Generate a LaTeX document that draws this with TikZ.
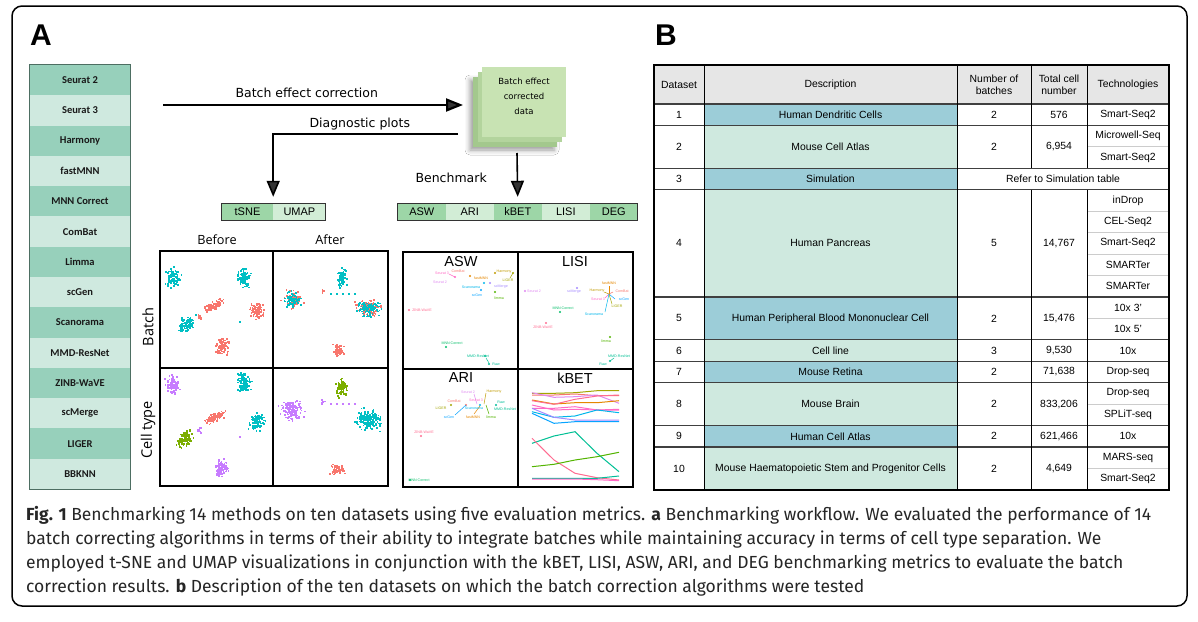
\documentclass[tikz,border=0pt]{standalone}
\usepackage{fontspec}
\setmainfont{Liberation Sans}
\newfontfamily\verdfont{DejaVu Sans}
\newfontfamily\capfont{Fira Sans}
\newfontfamily\plotfont{Open Sans}
\newfontfamily\listfont{Carlito}
\usetikzlibrary{arrows.meta,calc,positioning,shadows.blur}

\definecolor{methdark}{HTML}{97D0BB}
\definecolor{methlight}{HTML}{CFE9DF}
\definecolor{methline}{HTML}{4D6E62}
\definecolor{bardark}{HTML}{9DD6A7}
\definecolor{barlight}{HTML}{D2EDD6}
\definecolor{boxfront}{HTML}{C8E3B3}
\definecolor{boxmid}{HTML}{B3D49D}
\definecolor{boxback}{HTML}{A3C88D}
\definecolor{descblue}{HTML}{9CCDD8}
\definecolor{descmint}{HTML}{CFE9DF}
\definecolor{hdrgray}{HTML}{E6E6E6}
\definecolor{ggred}{HTML}{F8766D}
\definecolor{ggteal}{HTML}{00BFC4}
\definecolor{ggviolet}{HTML}{C77CFF}
\definecolor{ggolive}{HTML}{7CAE00}
% label colours of the metric plots
\definecolor{cSeuratII}{HTML}{E088F2}
\definecolor{cSeuratIII}{HTML}{FF6AC6}
\definecolor{cComBat}{HTML}{F8766D}
\definecolor{cfastMNN}{HTML}{E58700}
\definecolor{cHarmony}{HTML}{C09B00}
\definecolor{cLIGER}{HTML}{A3A500}
\definecolor{climma}{HTML}{53B400}
\definecolor{cMNN}{HTML}{00BE67}
\definecolor{cMMD}{HTML}{00C094}
\definecolor{cRaw}{HTML}{00BD9A}
\definecolor{cScanorama}{HTML}{00B6EB}
\definecolor{cscGen}{HTML}{06A4FF}
\definecolor{cscMerge}{HTML}{A58AFF}
\definecolor{cZINB}{HTML}{FF6C91}

\tikzset{
  method/.style={minimum width=100pt, minimum height=30.29pt, inner sep=0pt,
    font=\listfont\bfseries\fontsize{10.5}{12}\selectfont, text=black!90},
  barcell/.style={minimum height=16pt, inner sep=0pt, font=\fontsize{11}{12}\selectfont},
  flow/.style={line width=2.2pt, -{Triangle[length=17pt,width=13pt]}},
  thinflow/.style={line width=1.6pt, -{Triangle[length=16pt,width=13pt]}},
  flowlabel/.style={font=\verdfont\fontsize{12.5}{14}\selectfont, anchor=base west},
  plotlabel/.style={font=\plotfont\fontsize{12.7}{14}\selectfont},
  sidelabel/.style={font=\plotfont\fontsize{14.5}{16}\selectfont, rotate=90},
  metric/.style={font=\fontsize{14.5}{16}\selectfont},
  blabel/.style={font=\fontsize{3.6}{4}\selectfont, inner sep=0pt},
  kline/.style={line width=1pt},
  cell/.style={font=\fontsize{10.4}{12}\selectfont, align=center, inner sep=0pt},
  rowline/.style={line width=1.3pt, black!75},
  subline/.style={line width=0.8pt, black!20},
  colline/.style={line width=1pt, black},
  capline/.style={font=\capfont\fontsize{17.5}{20}\selectfont, anchor=base west, inner sep=0pt, text=black!85},
}

% one cloud of points: colour, centre x, centre y, spread x, spread y, shear, count
\newcommand{\cloud}[7]{%
  \foreach \k in {1,...,#7}{%
    \pgfmathsetmacro{\cu}{1.5*(rand+rand+rand)/3}%
    \pgfmathsetmacro{\cv}{1.5*(rand+rand+rand)/3}%
    \fill[#1] ({#2+#4*\cu-0.8},{#3+#5*\cv+#6*\cu-0.8}) rectangle ++(1.7,1.7);
  }}

\begin{document}
\begin{tikzpicture}[x=1pt, y=-1pt]
  \useasboundingbox (0,0) rectangle (1198,621);
  \fill[white] (0,0) rectangle (1198,621);
  \pgfmathsetseed{7}

  % frame and panel letters
  \draw[line width=1.5pt, rounded corners=10pt] (12,6) rectangle (1187,606);
  \node[anchor=base west, inner sep=0pt, font=\bfseries\fontsize{30}{30}\selectfont] (lettera) at (30,45) {A};
  \node[anchor=base west, inner sep=0pt, font=\bfseries\fontsize{30}{30}\selectfont] (letterb) at (655,45) {B};

  % list of methods
  \foreach \m [count=\i] in {Seurat 2, Seurat 3, Harmony, fastMNN, MNN Correct, ComBat, Limma, scGen, Scanorama, MMD-ResNet, ZINB-WaVE, scMerge, LIGER, BBKNN}{
    \ifodd\i \def\mc{methdark}\else \def\mc{methlight}\fi
    \node[method, fill=\mc] (m\i) at (80,{65+(\i-0.5)*30.29}) {\m};
  }
  \draw[methline, line width=0.9pt] (m1.north west) rectangle (m14.south east);

  % corrected data stack
  \fill[boxback, blur shadow={shadow xshift=-3pt, shadow yshift=-3pt, shadow blur radius=5pt}] (473,77) rectangle (557,147);
  \fill[boxmid] (478,72) rectangle (562,142);
  \node[fill=boxfront, minimum width=84pt, minimum height=70pt, inner sep=0pt, align=center,
    font=\verdfont\fontsize{8.5}{15}\selectfont] (bec) at (524,102) {Batch effect\\corrected\\data\\[-4pt]};

  % diagnostic and benchmark bars
  \node[barcell, fill=bardark, minimum width=51pt] (tsne) at (247.5,212) {tSNE};
  \node[barcell, fill=barlight, minimum width=52pt, right=0pt of tsne] (umap) {UMAP};
  \draw[black!80, line width=0.8pt] (tsne.north west) rectangle (umap.south east);
  \node[barcell, fill=bardark, minimum width=47.6pt] (asw) at (421.8,212) {ASW};
  \node[barcell, fill=barlight, minimum width=47.6pt, right=0pt of asw] (ari) {ARI};
  \node[barcell, fill=bardark, minimum width=47.6pt, right=0pt of ari] (kbet) {kBET};
  \node[barcell, fill=barlight, minimum width=47.6pt, right=0pt of kbet] (lisi) {LISI};
  \node[barcell, fill=bardark, minimum width=47.6pt, right=0pt of lisi] (deg) {DEG};
  \draw[black!80, line width=0.8pt] (asw.north west) rectangle (deg.south east);

  % workflow arrows
  \coordinate (methods) at (163,105);
  \coordinate (becin) at (463,105);
  \coordinate (becdiag) at (458,134);
  \coordinate (becbench) at (517,153);
  \draw[flow] (methods) -- (becin);
  \draw[thinflow, shorten >=7pt] (becdiag) -| (tsne.north east);
  \draw[thinflow, shorten >=7pt] (becbench) -- (kbet.north);
  \node[flowlabel] (lblcorr) at (232,97) {Batch effect correction};
  \node[flowlabel] (lbldiag) at (306,127) {Diagnostic plots};
  \node[flowlabel] (lblbench) at (412,182) {Benchmark};

  % embedding panels
  \node[plotlabel] (before) at (217,240) {Before};
  \node[plotlabel] (after) at (330,240) {After};
  \node[sidelabel] (sidebatch) at (148,327) {Batch};
  \node[sidelabel] (sidecell) at (148,430) {Cell type};

  % before, batch
  \cloud{ggteal}{173}{277}{7}{9}{0}{90}
  \cloud{ggteal}{244}{277}{6}{9}{0}{90}
  \cloud{ggred}{214}{306}{9}{4}{-5}{90}
  \cloud{ggred}{200}{318}{3}{3}{0}{10}
  \cloud{ggred}{257}{310}{7}{8}{0}{90}
  \cloud{ggteal}{187}{324}{8}{6}{-3}{90}
  \cloud{ggred}{222}{347}{6}{8}{0}{90}
  \fill[ggteal] (239.2,321.2) rectangle ++(1.7,1.7);
  % before, cell type
  \cloud{ggviolet}{173}{385}{6}{9}{0}{90}
  \cloud{ggteal}{244}{383}{6}{9}{0}{90}
  \cloud{ggred}{214}{418}{9}{4}{-5}{90}
  \cloud{ggviolet}{200}{430}{3}{3}{0}{10}
  \cloud{ggteal}{257}{423}{7}{8}{0}{90}
  \cloud{ggolive}{185}{438}{7}{8}{-3}{90}
  \cloud{ggviolet}{222}{468}{6}{8}{0}{90}
  \fill[ggviolet] (239.2,436.2) rectangle ++(1.7,1.7);
  % after, batch
  \cloud{ggteal}{342}{278}{4.5}{9}{-2}{80}
  \cloud{ggred}{292}{300}{9}{8}{0}{70}
  \cloud{ggteal}{292}{300}{8}{7}{0}{70}
  \cloud{ggred}{368}{308}{11}{8}{0}{90}
  \cloud{ggteal}{368}{308}{10}{8}{0}{90}
  \cloud{ggred}{338}{350}{6}{5}{0}{60}
  \cloud{ggred}{323}{292}{2}{2}{0}{6}
  \foreach \dx in {330,336,342,348,354}{\fill[ggteal] (\dx,293) rectangle ++(1.7,1.7);}
  % after, cell type
  \cloud{ggolive}{342}{387}{4.5}{9}{-2}{80}
  \cloud{ggviolet}{292}{410}{10}{9}{0}{140}
  \cloud{ggteal}{368}{420}{11}{9}{0}{180}
  \cloud{ggred}{338}{469}{6}{5}{0}{60}
  \cloud{ggviolet}{323}{402}{2}{2}{0}{6}
  \foreach \dx in {330,336,342,348,354}{\fill[ggviolet] (\dx,403) rectangle ++(1.7,1.7);}
  \draw[line width=1.3pt] (160,251) rectangle (388,486);
  \draw[line width=1.3pt] (273,251) -- (273,486);
  \draw[line width=1.3pt] (160,368) -- (388,368);

  % metric panels
  \node[metric] (tasw) at (461,262) {ASW};
  \node[metric] (tlisi) at (575,262) {LISI};
  \node[metric] (tari) at (461,378) {ARI};
  \node[metric] (tkbet) at (575,378) {kBET};
  % ASW
  \foreach \col/\p in {cSeuratIII/{455,277}, cfastMNN/{470,276}, cHarmony/{495,273}, cLIGER/{513,273}, cScanorama/{484,283}, cscMerge/{490,283}, cscGen/{481,290}, climma/{495,292}, cZINB/{409,310}, cMNN/{446,347}, cMMD/{485,356}, cRaw/{489,364}}
    \fill[\col] (\p) circle (1.1);
  \draw[cSeuratIII, line width=0.5pt] (449,274) -- (455,277);
  \draw[cLIGER, line width=0.5pt] (510,278) -- (513,273);
  \draw[cMMD, line width=0.5pt] (486,358) -- (489,363);
  \foreach \col/\p/\t [count=\i] in {cSeuratIII/{442,273}/Seurat 3, cComBat/{458,271}/ComBat, cSeuratII/{440,282}/Seurat 2, cfastMNN/{481,278}/fastMNN, cHarmony/{504,272}/Harmony, cLIGER/{508,280}/LIGER, cScanorama/{471,287}/Scanorama, cscMerge/{501,287}/scMerge, cscGen/{477,295}/scGen, climma/{499,298}/limma, cZINB/{422,310}/ZINB-WaVE, cMNN/{452,343}/MNN Correct, cMMD/{478,356}/MMD-ResNet, cRaw/{496,364}/Raw}
    \node[blabel, text=\col] (asw\i) at (\p) {\t};
  % LISI
  \foreach \col/\p in {cSeuratII/{525,291}, cscMerge/{577,288}, cMNN/{560,312}, cZINB/{546,323}, climma/{610,337}, cRaw/{610,361}}
    \fill[\col] (\p) circle (1.1);
  \foreach \col/\p in {cfastMNN/{609,286}, cHarmony/{604,292}, cComBat/{613,292}, cSeuratIII/{605,298}, cscGen/{615,299}, cLIGER/{612,304}, cScanorama/{605,312}}
    \draw[\col, line width=0.5pt] (609,294) -- (\p);
  \draw[cMMD, line width=0.5pt] (614,358) -- (610,361);
  \foreach \col/\p/\t [count=\i] in {cSeuratII/{534,291}/Seurat 2, cscMerge/{574,292}/scMerge, cfastMNN/{609,283}/fastMNN, cHarmony/{597,291}/Harmony, cComBat/{622,291}/ComBat, cSeuratIII/{598,299}/Seurat 3, cscGen/{624,299}/scGen, cLIGER/{617,306}/LIGER, cMNN/{563,308}/MNN Correct, cScanorama/{594,314}/Scanorama, cZINB/{543,327}/ZINB-WaVE, climma/{606,341}/limma, cMMD/{619,356}/MMD-ResNet, cRaw/{603,364}/Raw}
    \node[blabel, text=\col] (lisi\i) at (\p) {\t};
  % ARI
  \foreach \col/\p in {cLIGER/{451,405}, cRaw/{496,405}, cZINB/{421,436}, cMNN/{410,480}, cComBat/{466,405}, cScanorama/{480,405}}
    \fill[\col] (\p) circle (1.1);
  \draw[cSeuratII, line width=0.5pt] (474,394) -- (477,404);
  \draw[cHarmony, line width=0.5pt] (486,393) -- (484,404);
  \draw[cfastMNN, line width=0.5pt] (474,414) -- (480,406);
  \draw[cscGen, line width=0.5pt] (455,415) -- (466,405);
  \draw[climma, line width=0.5pt] (489,414) -- (486,405);
  \foreach \col/\p/\t [count=\i] in {cSeuratII/{468,392}/Seurat 2, cHarmony/{494,392}/Harmony, cSeuratIII/{476,400}/Seurat 3, cComBat/{454,401}/ComBat, cLIGER/{441,408}/LIGER, cScanorama/{474,408}/Scanorama, cfastMNN/{473,417}/fastMNN, cRaw/{501,402}/Raw, cMMD/{505,409}/MMD-ResNet, cscGen/{449,417}/scGen, climma/{491,417}/limma, cZINB/{424,432}/ZINB-WaVE, cMNN/{419,480}/MNN Correct}
    \node[blabel, text=\col] (ari\i) at (\p) {\t};
  % kBET
  \foreach \col/\ya/\yb/\yc/\yd/\ye in {
      cLIGER/393.3/393.3/392.7/390.7/390.7, cComBat/395/395/394/395.7/395.7,
      cSeuratII/392.7/397.3/396.7/395/403.3, cfastMNN/400/404/402.7/402.7/400.7,
      cZINB/400.7/404.3/399.3/396/395, cSeuratIII/405/410/409.3/410/410,
      cSeuratIII/408.3/408.3/406.7/410/409.3, cScanorama/411.7/417.3/416/410/412.7,
      cscMerge/408.3/417.3/420/420/420, cscGen/413.3/423.3/421.7/421.7/421.7,
      cMMD/443.3/436/431.7/453.3/471.7, cZINB/438.3/460/473.3/477.7/480,
      climma/466.7/464.3/460/456.7/452.3, cRaw/478.3/478.3/478.3/478.3/476,
      cSeuratIII/479/479/479/479.7/480.7}
    \draw[\col, kline] (532,\ya) -- (554,\yb) -- (575,\yc) -- (597,\yd) -- (619,\ye);
  \draw[line width=1.3pt] (403,252) rectangle (633,487);
  \draw[line width=1.3pt] (518,252) -- (518,487);
  \draw[line width=1.3pt] (403,369) -- (633,369);

  % dataset table
  \fill[hdrgray] (654,65) rectangle (1169,104);
  \foreach \t/\n/\col in {104/1/descblue, 125.44/2/descmint, 168.32/1/descblue, 189.76/5/descmint, 296.96/2/descblue, 339.84/1/descmint, 361.28/1/descblue, 382.72/2/descmint, 425.6/1/descblue, 447.04/2/descmint}
    \fill[\col] (704,\t) rectangle (957,{\t+\n*21.44});
  \node[cell] (hds) at (679,84.5) {Dataset};
  \node[cell] (hdesc) at (830.5,84.5) {Description};
  \node[cell] (hnb) at (994,84.5) {Number of\\batches};
  \node[cell] (hnc) at (1059,84.5) {Total cell\\number};
  \node[cell] (htech) at (1128,84.5) {Technologies};
  \foreach \t/\n/\id/\desc/\nb/\nc in {104/1/1/Human Dendritic Cells/2/576, 125.44/2/2/Mouse Cell Atlas/2/{6,954},
      189.76/5/4/Human Pancreas/5/{14,767}, 296.96/2/5/Human Peripheral Blood Mononuclear Cell/2/{15,476},
      339.84/1/6/Cell line/3/{9,530}, 361.28/1/7/Mouse Retina/2/{71,638}, 382.72/2/8/Mouse Brain/2/{833,206},
      425.6/1/9/Human Cell Atlas/2/{621,466}, 447.04/2/10/Mouse Haematopoietic Stem and Progenitor Cells/2/{4,649}}{
    \node[cell] (id\id) at (679,{\t+\n*10.72}) {\id};
    \node[cell] (desc\id) at (830.5,{\t+\n*10.72}) {\desc};
    \node[cell] (nb\id) at (994,{\t+\n*10.72}) {\nb};
    \node[cell] (nc\id) at (1059,{\t+\n*10.72}) {\nc};
  }
  \node[cell] (id3) at (679,179.04) {3};
  \node[cell] (desc3) at (830.5,179.04) {Simulation};
  \node[cell] (sim3) at (1063,179.04) {Refer to Simulation table};
  \foreach \t/\nm [count=\i] in {104/Smart-Seq2, 125.44/Microwell-Seq, 146.88/Smart-Seq2, 189.76/inDrop, 211.2/CEL-Seq2,
      232.64/Smart-Seq2, 254.08/SMARTer, 275.52/SMARTer, 296.96/10x 3', 318.4/10x 5', 339.84/10x, 361.28/Drop-seq,
      382.72/Drop-seq, 404.16/SPLiT-seq, 425.6/10x, 447.04/MARS-seq, 468.48/Smart-Seq2}
    \node[cell] (tech\i) at (1128,{\t+10.72}) {\nm};
  \foreach \y in {146.88, 211.2, 232.64, 254.08, 275.52, 318.4, 404.16, 468.48}
    \draw[subline] (1087,\y) -- (1169,\y);
  \foreach \y in {104, 125.44, 168.32, 189.76, 296.96, 339.84, 361.28, 382.72, 425.6, 447.04}
    \draw[rowline] (654,\y) -- (1169,\y);
  \draw[colline] (704,65) -- (704,489.92);
  \draw[colline] (957,65) -- (957,489.92);
  \draw[colline] (1031,65) -- (1031,168.32) (1031,189.76) -- (1031,489.92);
  \draw[colline] (1087,65) -- (1087,168.32) (1087,189.76) -- (1087,489.92);
  \draw[line width=2pt] (654,65) rectangle (1169,489.92);

  % caption
  \node[capline] (cap1) at (26,520) {\textbf{Fig. 1} Benchmarking 14 methods on ten datasets using five evaluation metrics. \textbf{a} Benchmarking workflow. We evaluated the performance of 14};
  \node[capline] (cap2) at (26,544) {batch correcting algorithms in terms of their ability to integrate batches while maintaining accuracy in terms of cell type separation. We};
  \node[capline] (cap3) at (26,568) {employed t-SNE and UMAP visualizations in conjunction with the kBET, LISI, ASW, ARI, and DEG benchmarking metrics to evaluate the batch};
  \node[capline] (cap4) at (26,592) {correction results. \textbf{b} Description of the ten datasets on which the batch correction algorithms were tested};
\end{tikzpicture}
\end{document}
